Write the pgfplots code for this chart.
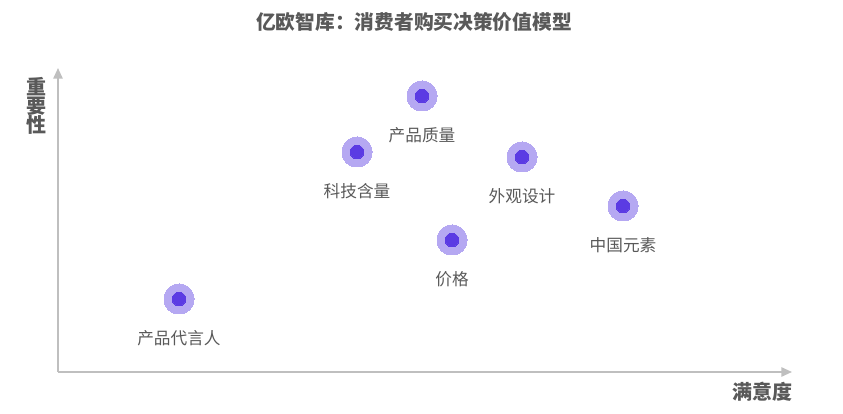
\documentclass[border=0pt]{standalone}
\usepackage{pgfplots}
\usepackage{pgfplotstable}
\pgfplotsset{compat=1.18}
\usepackage{fontspec}
\setmainfont{Noto Sans CJK SC}
\usetikzlibrary{arrows.meta}
\definecolor{halo}{HTML}{B5A8F2}
\definecolor{core}{HTML}{5B3BE3}
\definecolor{txt}{HTML}{595959}
\definecolor{axisgray}{HTML}{BFBFBF}
\pgfplotstableread{
x y label
179 115 产品代言人
357 262 科技含量
422 318 产品质量
452 174 价格
522 257 外观设计
623 208 中国元素
}\pts
\begin{document}
\begin{tikzpicture}
\begin{axis}[
  scale only axis, width=550.5pt, height=228pt,
  xmin=58, xmax=792, ymin=42, ymax=346,
  axis lines=left,
  axis line style={axisgray, line width=1.3pt, -{Triangle[length=8pt,width=7pt]}},
  ticks=none, clip=false,
]
\addplot[only marks, color=halo, mark=*, mark size=11.25pt, mark options={fill=halo, draw=none, line width=0pt}] table[x=x,y=y] {\pts};
\addplot[only marks, color=core, mark=*, mark size=5.1pt, mark options={fill=core, draw=none, line width=0pt},
  point meta=explicit symbolic, nodes near coords,
  nodes near coords style={anchor=center, yshift=-29.5pt, font=\fontsize{12.5pt}{14pt}\selectfont, text=txt}]
  table[x=x,y=y,meta=label] {\pts};
\node[text=txt, font=\fontsize{14.8pt}{16pt}\selectfont\bfseries] at (axis cs:414,392) {亿欧智库：消费者购买决策价值模型};
\node[text=txt, font=\fontsize{15pt}{15pt}\selectfont\bfseries, align=center, inner sep=0pt] at (axis cs:37,308) {重\\[-1pt]要\\[-1pt]性};
\node[text=txt, font=\fontsize{15pt}{16pt}\selectfont\bfseries] at (axis cs:762,22) {满意度};
\path (axis cs:0,0) rectangle (axis cs:843,414);
\end{axis}
\end{tikzpicture}
\end{document}
